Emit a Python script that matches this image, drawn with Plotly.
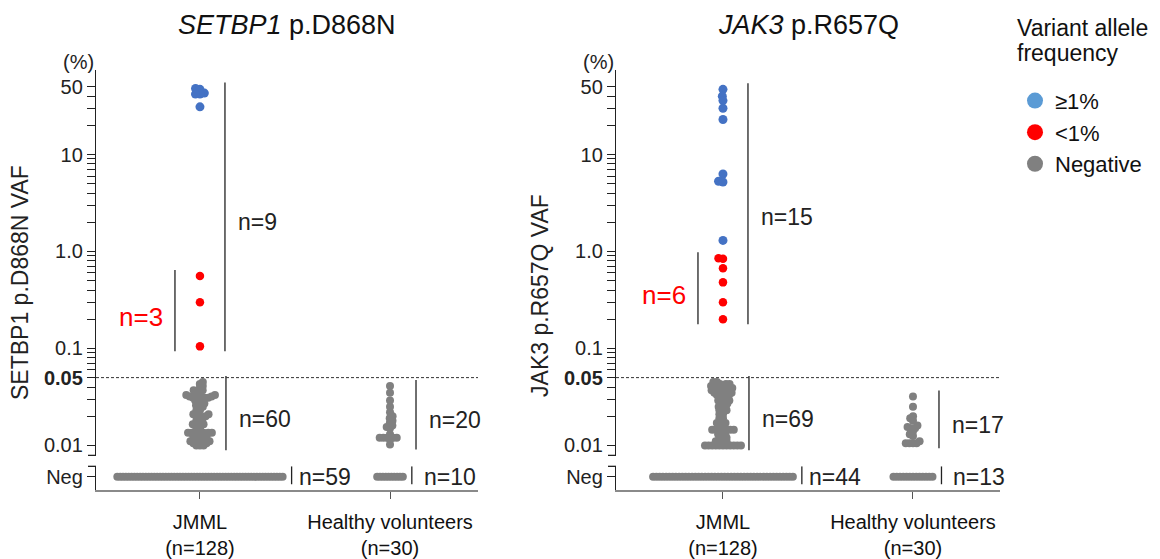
import math
import plotly.graph_objects as go

# ------------------------------------------------------------------ data
GROUPS = ["JMML", "Healthy volunteers"]
GROUP_TICKTEXT = ["JMML<br>(n=128)", "Healthy volunteers<br>(n=30)"]

# SETBP1 p.D868N (VAF, %)
SETBP1_JMML_HIGH = [48, 47, 43, 42, 42, 31]            # >=1 %
SETBP1_JMML_LOW = [0.56, 0.30, 0.105]                   # <1 %
SETBP1_JMML_SUB = [0.045, 0.043, 0.041, 0.039, 0.037, 0.037, 0.035, 0.035,
                   0.033, 0.033, 0.032, 0.032, 0.032, 0.031, 0.031, 0.031,
                   0.031, 0.029, 0.029, 0.027, 0.027, 0.026, 0.025, 0.025,
                   0.023, 0.023, 0.021, 0.021, 0.020, 0.020, 0.020, 0.019,
                   0.018, 0.018, 0.0165, 0.0165, 0.0165, 0.0165, 0.015, 0.015,
                   0.0135, 0.0135, 0.0135, 0.0135, 0.0135, 0.0135, 0.0135,
                   0.0125, 0.0125, 0.012, 0.012, 0.012, 0.011, 0.011, 0.011,
                   0.0105, 0.0105, 0.010, 0.010, 0.010]
SETBP1_JMML_NEG = 59
SETBP1_HV_SUB = [0.041, 0.035, 0.029, 0.025, 0.022, 0.020, 0.019, 0.018,
                 0.017, 0.016, 0.0155, 0.015, 0.013, 0.012, 0.012, 0.012,
                 0.012, 0.012, 0.0115, 0.0102]
SETBP1_HV_NEG = 10

# JAK3 p.R657Q (VAF, %)
JAK3_JMML_HIGH = [47, 40, 36, 30, 23, 6.3, 5.3, 5.2, 1.3]
JAK3_JMML_LOW = [0.85, 0.84, 0.67, 0.48, 0.30, 0.20]
JAK3_JMML_SUB = ([0.045] * 2 + [0.043] * 3 + [0.041] * 3 + [0.039] * 3 +
                 [0.037] * 3 + [0.035] * 3 + [0.033] * 3 + [0.031] * 2 +
                 [0.029] * 2 + [0.027] * 3 + [0.025] * 3 + [0.023] * 3 +
                 [0.021] * 2 + [0.019] * 2 + [0.017] * 2 + [0.016] * 2 +
                 [0.0145] * 7 + [0.013] * 3 + [0.012] * 3 + [0.011] * 4 +
                 [0.010] * 11)
JAK3_JMML_NEG = 44
JAK3_HV_SUB = [0.032, 0.025, 0.020, 0.019, 0.018, 0.016, 0.0155, 0.015, 0.015,
               0.014, 0.013, 0.0125, 0.011, 0.0105, 0.0105, 0.0105, 0.0105]
JAK3_HV_NEG = 13

THRESHOLD = 0.05
Y_TICKVALS = [0.01, 0.05, 0.1, 1, 10, 50]
Y_TICKTEXT = ["0.01", "<b>0.05</b>", "0.1", "1.0", "10", "50"]
Y_MINOR = ([k * 0.01 for k in (2, 3, 4, 6, 7, 8, 9)] +
           [k * 0.1 for k in range(2, 10)] +
           [k * 1.0 for k in range(2, 10)] + [20, 30, 40])

LEGEND_TITLE = ["Variant allele", "frequency"]
LEGEND_ITEMS = ["≥1%", "<1%", "Negative"]

# ------------------------------------------------------------------ layout constants
PAGE_W, PAGE_H = 1160, 559
OFF = 8                       # default page margin around the plot div
W, H = PAGE_W - OFF, PAGE_H - OFF


def px2x(px):
    return (px - OFF) / W


def py2y(py):
    return 1 - (py - OFF) / H


PANELS = [dict(x0=96, x1=478, xr=[-0.547, 1.463], neg_sp=2.85,
               title="<i>SETBP1</i> p.D868N", ytitle="SETBP1 p.D868N VAF", ytitle_y=284),
          dict(x0=616, x1=1000, xr=[-0.563, 1.458], neg_sp=3.25,
               title="<i>JAK3</i> p.R657Q", ytitle="JAK3 p.R657Q VAF", ytitle_y=297)]
MAIN_TOP, MAIN_BOT = 70, 457
NEG_TOP, NEG_BOT = 468, 492
LOG_RANGE = [-2.103, 1.874]
NEG_Y = 0.56
PX_PER_DEC = (MAIN_BOT - MAIN_TOP) / (LOG_RANGE[1] - LOG_RANGE[0])
SWARM_D = 3.6

BLUE, RED, GRAY, LEG_BLUE = "#4472C4", "#FF0000", "#808080", "#5B9BD5"
NARROW = "Liberation Sans Narrow, Arial Narrow, Liberation Sans, sans-serif"
ARIAL = "Liberation Sans, Arial, sans-serif"
INK = "#222222"

fig = go.Figure()


def swarm(values, px_per_x, d=4.0):
    """beeswarm x-offsets (data units) for log-scaled values"""
    placed = []
    out = {}
    order = sorted(range(len(values)), key=lambda i: values[i])
    for i in order:
        y = math.log10(values[i]) * PX_PER_DEC
        cands = [0.0]
        for px, py in placed:
            dy = abs(py - y)
            if dy < d:
                dx = math.sqrt(d * d - dy * dy)
                cands += [px + dx, px - dx]
        cands.sort(key=lambda c: (abs(c), c))
        for c in cands:
            if all((c - px) ** 2 + (y - py) ** 2 >= d * d - 1e-6 for px, py in placed):
                placed.append((c, y))
                out[i] = c
                break
    return [out[i] / px_per_x for i in range(len(values))]


def px_to_logval(dy_px):
    return dy_px / PX_PER_DEC


shapes, annotations = [], []

panel_data = [
    dict(high=SETBP1_JMML_HIGH, low=SETBP1_JMML_LOW, sub=[SETBP1_JMML_SUB, SETBP1_HV_SUB],
         neg=[SETBP1_JMML_NEG, SETBP1_HV_NEG]),
    dict(high=JAK3_JMML_HIGH, low=JAK3_JMML_LOW, sub=[JAK3_JMML_SUB, JAK3_HV_SUB],
         neg=[JAK3_JMML_NEG, JAK3_HV_NEG]),
]

layout_axes = {}
for p, (P, D) in enumerate(zip(PANELS, panel_data)):
    xa = "x" if p == 0 else "x2"
    ym = "y" if p == 0 else "y3"
    yn = "y2" if p == 0 else "y4"
    px_per_x = (P["x1"] - P["x0"]) / (P["xr"][1] - P["xr"][0])

    # positive points (>=1% and <1%) at group 0
    pos_vals = D["high"] + D["low"]
    offs = swarm(pos_vals, px_per_x, d=4.5)
    nh = len(D["high"])
    fig.add_trace(go.Scatter(x=offs[:nh], y=D["high"], xaxis=xa, yaxis=ym,
                             mode="markers", marker=dict(color=BLUE, size=9),
                             showlegend=False, hoverinfo="y"))
    fig.add_trace(go.Scatter(x=offs[nh:], y=D["low"], xaxis=xa, yaxis=ym,
                             mode="markers", marker=dict(color=RED, size=8.5),
                             showlegend=False, hoverinfo="y"))

    # sub-threshold points and negatives for each group
    for g in range(2):
        vals = D["sub"][g]
        o = swarm(vals, px_per_x, d=SWARM_D)
        fig.add_trace(go.Scatter(x=[g + v for v in o], y=vals, xaxis=xa, yaxis=ym,
                                 mode="markers", marker=dict(color=GRAY, size=8),
                                 showlegend=False, hoverinfo="y"))
        n = D["neg"][g]
        sp = P["neg_sp"] / px_per_x
        xs = [g + (i - (n - 1) / 2) * sp for i in range(n)]
        fig.add_trace(go.Scatter(x=xs, y=[NEG_Y] * n, xaxis=xa, yaxis=yn,
                                 mode="markers", marker=dict(color=GRAY, size=8),
                                 showlegend=False, hoverinfo="skip"))

    pad_top, pad_bot = 10 ** px_to_logval(6), 10 ** px_to_logval(5)

    def bracket(xc, lo, hi, text, color=INK, size=23, side="right", shift=5):
        shapes.append(dict(type="line", xref=xa, yref=ym, x0=xc, x1=xc,
                           y0=lo / pad_bot, y1=hi * pad_top,
                           line=dict(color=INK, width=1.3)))
        mid = (math.log10(lo) + math.log10(hi)) / 2 - px_to_logval(shift)
        annotations.append(dict(xref=xa, yref=ym, x=xc, y=mid, text=text,
                                showarrow=False,
                                xanchor="left" if side == "right" else "right",
                                xshift=11 if side == "right" else -10,
                                font=dict(family=NARROW, size=size, color=color)))

    bracket(25 / px_per_x, min(pos_vals), max(pos_vals), f"n={len(pos_vals)}",
            shift=5 if p == 0 else 13)
    bracket(-25 / px_per_x, min(D["low"]), max(D["low"]), f"n={len(D['low'])}",
            color=RED, size=26, side="left", shift=6)
    for g in range(2):
        vals = D["sub"][g]
        bracket(g + 26 / px_per_x, min(vals), max(vals), f"n={len(vals)}")
        n = D["neg"][g]
        xc = g + ((n - 1) / 2 * P["neg_sp"] + 9) / px_per_x
        shapes.append(dict(type="line", xref=xa, yref=yn, x0=xc, x1=xc, y0=0.25, y1=1.0,
                           line=dict(color=INK, width=1.3)))
        annotations.append(dict(xref=xa, yref=yn, x=xc, y=NEG_Y, text=f"n={n}",
                                showarrow=False, xanchor="left", xshift=5 if g == 0 else 10,
                                font=dict(family=NARROW, size=23, color=INK)))

    # threshold dashed line
    shapes.append(dict(type="line", xref=f"{xa} domain", yref=ym, x0=0, x1=1,
                       y0=THRESHOLD, y1=THRESHOLD,
                       line=dict(color="#333333", width=1, dash="3px,2px")))
    # axis break caps
    for ypx in (MAIN_BOT, NEG_TOP):
        shapes.append(dict(type="line", xref="paper", yref="paper",
                           x0=px2x(P["x0"] - 8), x1=px2x(P["x0"]),
                           y0=py2y(ypx), y1=py2y(ypx),
                           line=dict(color=INK, width=1.3)))

    xdom = [px2x(P["x0"]), px2x(P["x1"])]
    ax_common = dict(showgrid=False, zeroline=False, showline=True, linecolor=INK,
                     linewidth=1.3, ticks="outside", ticklen=8, tickwidth=1.2,
                     tickcolor=INK, tickfont=dict(family=NARROW, size=20, color=INK))
    layout_axes["xaxis" if p == 0 else "xaxis2"] = dict(
        domain=xdom, range=P["xr"], anchor=yn, showgrid=False, zeroline=False,
        showline=True, linecolor="#8a8a8a", linewidth=1.6, ticks="outside",
        ticklen=7, tickcolor="#555555", tickwidth=1.2,
        tickvals=[0, 1], ticktext=GROUP_TICKTEXT, ticklabelstandoff=6,
        tickfont=dict(family=ARIAL, size=20, color="#111111"))
    layout_axes["yaxis" if p == 0 else "yaxis3"] = dict(
        domain=[py2y(MAIN_BOT), py2y(MAIN_TOP)], type="log", range=LOG_RANGE,
        anchor=xa, tickvals=Y_TICKVALS, ticktext=Y_TICKTEXT,
        minor=dict(tickvals=Y_MINOR, ticklen=8, tickcolor=INK, tickwidth=1.2,
                   ticks="outside", showgrid=False),
        **ax_common)
    layout_axes["yaxis2" if p == 0 else "yaxis4"] = dict(
        domain=[py2y(NEG_BOT), py2y(NEG_TOP)], range=[0, 1], anchor=xa,
        tickvals=[NEG_Y], ticktext=["Neg"], **ax_common)

    # titles and labels
    annotations.append(dict(xref="paper", yref="paper", x=px2x((P["x0"] + P["x1"]) / 2),
                            y=py2y(25), text=P["title"], showarrow=False,
                            xanchor="center", yanchor="middle",
                            font=dict(family=ARIAL, size=27, color="#111111")))
    annotations.append(dict(xref="paper", yref="paper", x=px2x(P["x0"] - 18),
                            y=py2y(62), text="(%)", showarrow=False,
                            xanchor="center", yanchor="middle",
                            font=dict(family=NARROW, size=20, color=INK)))
    annotations.append(dict(xref="paper", yref="paper", x=px2x(P["x0"] - 76),
                            y=py2y(P["ytitle_y"]), text=P["ytitle"], showarrow=False,
                            textangle=-90, xanchor="center", yanchor="middle",
                            font=dict(family=NARROW, size=23, color=INK)))

# legend title (two tight lines) and legend entries
for line, ypx in zip(LEGEND_TITLE, (28, 53)):
    annotations.append(dict(xref="paper", yref="paper", x=px2x(1015), y=py2y(ypx),
                            text=line, showarrow=False, xanchor="left", yanchor="middle",
                            font=dict(family=ARIAL, size=23, color="#111111")))
for i, (name, col) in enumerate(zip(LEGEND_ITEMS, [LEG_BLUE, RED, GRAY])):
    fig.add_trace(go.Scatter(x=[None], y=[None], mode="markers", name=name,
                             marker=dict(color=col, size=17), legendgroup=str(i),
                             xaxis="x", yaxis="y"))

fig.update_layout(
    width=W, height=H, margin=dict(l=0, r=0, t=0, b=0),
    paper_bgcolor="white", plot_bgcolor="white",
    shapes=shapes, annotations=annotations,
    legend=dict(x=px2x(1015), y=py2y(80), xanchor="left", yanchor="top",
                font=dict(family=ARIAL, size=22, color="#111111"),
                tracegroupgap=0, itemwidth=30, bgcolor="rgba(0,0,0,0)"),
    **layout_axes,
)

fig.write_html("out.html")
